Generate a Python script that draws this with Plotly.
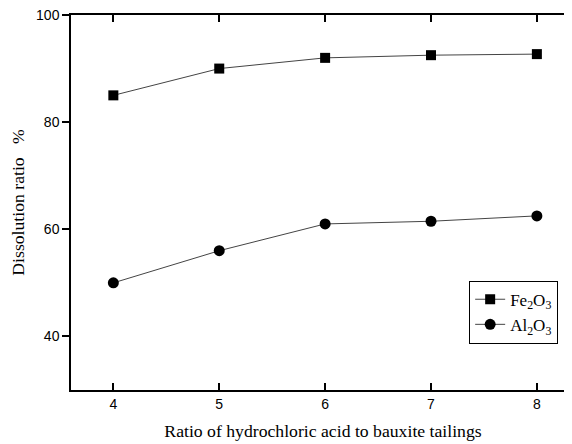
import plotly.graph_objects as go

# ratio of HCl to bauxite tailings vs dissolution ratio (%)
ratio = [4, 5, 6, 7, 8]
fe2o3 = [85.0, 90.0, 92.0, 92.5, 92.7]
al2o3 = [50.0, 56.0, 61.0, 61.5, 62.5]

fig = go.Figure()

fig.add_trace(go.Scatter(
    x=ratio, y=fe2o3,
    mode="lines+markers",
    name="Fe<sub>2</sub>O<sub>3</sub>",
    line=dict(color="#444444", width=1),
    marker=dict(symbol="square", size=10, color="black"),
))
fig.add_trace(go.Scatter(
    x=ratio, y=al2o3,
    mode="lines+markers",
    name="Al<sub>2</sub>O<sub>3</sub>",
    line=dict(color="#444444", width=1),
    marker=dict(symbol="circle", size=11, color="black"),
))
# invisible copy on the right-hand axis so its inside ticks get drawn
fig.add_trace(go.Scatter(
    x=ratio, y=al2o3, yaxis="y2",
    mode="markers", marker=dict(opacity=0),
    showlegend=False, hoverinfo="skip",
))

tick_font = dict(family="Liberation Sans, Arial", size=14, color="black")
title_font = dict(family="Liberation Serif, Times New Roman", size=17.7, color="black")

# trailing non-breaking spaces nudge the title down a little, like the original
y_title = "Dissolution ratio\u00a0\u00a0\u00a0%" + "\u00a0" * 5

fig.update_layout(
    width=572, height=444,
    margin=dict(l=62.5, r=5.3, t=7, b=62),
    paper_bgcolor="white",
    plot_bgcolor="white",
    showlegend=True,
    legend=dict(
        x=0.79, y=0.2915, xanchor="left", yanchor="top",
        bordercolor="black", borderwidth=1,
        bgcolor="white",
        font=dict(family="Liberation Serif, Times New Roman", size=17, color="black"),
        tracegroupgap=0,
    ),
    xaxis=dict(
        range=[3.6, 8.36],
        tickvals=ratio,
        ticks="inside", ticklen=7, tickwidth=1.5, tickcolor="black",
        showline=True, linecolor="black", linewidth=1.5,
        mirror="ticks",
        showgrid=False, zeroline=False,
        tickfont=tick_font,
        title=dict(text="Ratio of hydrochloric acid to bauxite tailings",
                   font=title_font, standoff=14),
    ),
    yaxis=dict(
        range=[30, 100],
        tickvals=[40, 60, 80, 100],
        ticks="outside", ticklen=7, tickwidth=1.5, tickcolor="black",
        showline=True, linecolor="black", linewidth=1.5,
        showgrid=False, zeroline=False,
        ticklabeloverflow="allow",
        automargin="left",
        tickfont=tick_font,
        title=dict(text=y_title, font=title_font, standoff=10),
    ),
    yaxis2=dict(
        overlaying="y", side="right",
        range=[30, 100],
        tickvals=[40, 60, 80, 100],
        ticks="inside", ticklen=7, tickwidth=1.5, tickcolor="black",
        showticklabels=False, showline=False,
        showgrid=False, zeroline=False,
    ),
)

fig.write_html("out.html")
